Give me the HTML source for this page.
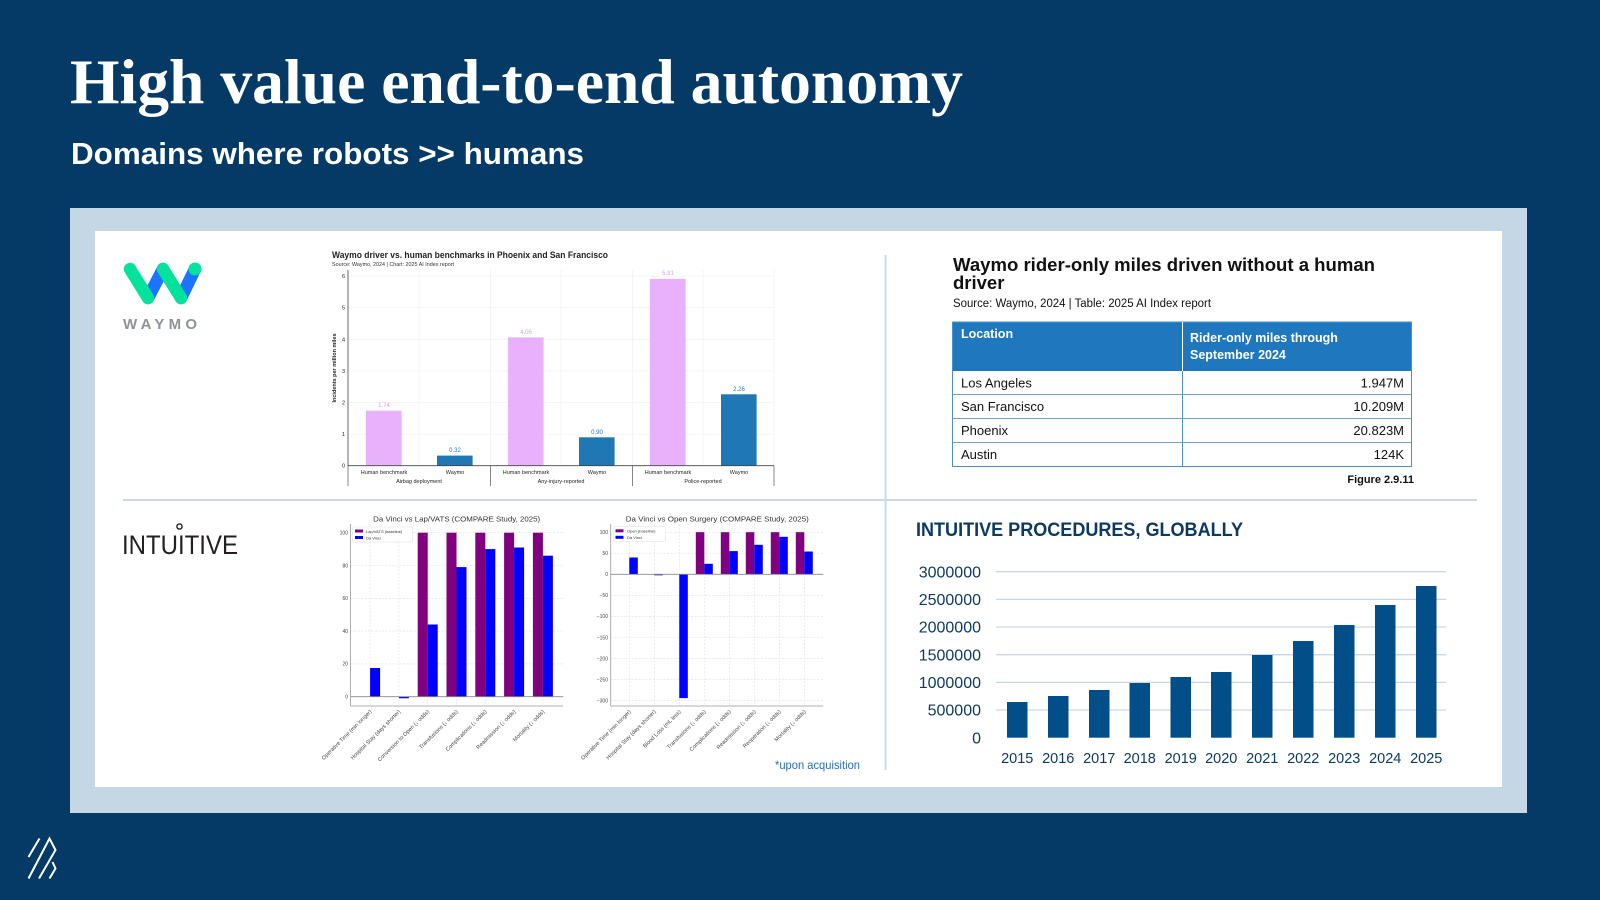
<!DOCTYPE html>
<html><head><meta charset="utf-8"><style>
html,body{margin:0;padding:0;background:#053a66;}
svg{display:block;}
</style></head><body>
<svg width="1600" height="900" viewBox="0 0 1600 900" xmlns="http://www.w3.org/2000/svg" font-family="Liberation Sans, Arial, sans-serif">
<rect x="0" y="0" width="1600" height="900" fill="#053a66"/>
<text x="70" y="103" font-family="Liberation Serif, serif" font-weight="bold" font-size="64" fill="#fff" textLength="893" lengthAdjust="spacingAndGlyphs">High value end-to-end autonomy</text>
<text x="71" y="164" font-weight="bold" font-size="31" fill="#fff" textLength="513" lengthAdjust="spacingAndGlyphs">Domains where robots &gt;&gt; humans</text>

<rect x="70" y="208" width="1457" height="605" fill="#c5d6e4"/>
<rect x="95" y="231" width="1407" height="556" fill="#ffffff"/>
<line x1="123" y1="500" x2="1477" y2="500" stroke="#c9d9e7" stroke-width="2"/>
<line x1="885.5" y1="255" x2="885.5" y2="770" stroke="#c9d9e7" stroke-width="2"/>

<!-- Waymo logo -->
<g stroke-linecap="round" fill="none" stroke-width="12.5">
<line x1="148" y1="298" x2="163" y2="269" stroke="#1a74ff"/>
<line x1="181" y1="298" x2="195" y2="269" stroke="#1a74ff"/>
<line x1="130" y1="269" x2="148" y2="298" stroke="#05e29c"/>
<line x1="163" y1="269" x2="181" y2="298" stroke="#05e29c"/>
</g>
<circle cx="195" cy="269" r="6.5" fill="#05e29c"/>
<text x="123" y="329" font-size="15" font-weight="bold" fill="#8d9399" letter-spacing="5" textLength="79" lengthAdjust="spacing">WAYMO</text>

<!-- Waymo bar chart -->
<text x="332" y="258" font-weight="bold" font-size="9.5" fill="#222" textLength="276" lengthAdjust="spacingAndGlyphs">Waymo driver vs. human benchmarks in Phoenix and San Francisco</text>
<text x="332" y="266" font-size="5.5" fill="#333" textLength="122" lengthAdjust="spacingAndGlyphs">Source: Waymo, 2024 | Chart: 2025 AI Index report</text>
<g stroke="#f2f2f2" stroke-width="0.8">
<line x1="348" y1="434.1" x2="774" y2="434.1"/><line x1="348" y1="402.5" x2="774" y2="402.5"/>
<line x1="348" y1="370.9" x2="774" y2="370.9"/><line x1="348" y1="339.3" x2="774" y2="339.3"/>
<line x1="348" y1="307.7" x2="774" y2="307.7"/><line x1="348" y1="276.1" x2="774" y2="276.1"/>
<line x1="419" y1="270" x2="419" y2="466"/><line x1="561" y1="270" x2="561" y2="466"/><line x1="703" y1="270" x2="703" y2="466"/>
<line x1="490.4" y1="270" x2="490.4" y2="466"/><line x1="632.4" y1="270" x2="632.4" y2="466"/><line x1="774" y1="270" x2="774" y2="466"/>
</g>
<g fill="#e9b0fb"><rect x="366" y="410.7" width="35.6" height="55"/><rect x="508" y="337.4" width="35.6" height="128.3"/><rect x="650" y="278.9" width="35.6" height="186.8"/></g>
<g fill="#1f77b4"><rect x="437" y="455.6" width="35.6" height="10.1"/><rect x="579" y="437.3" width="35.6" height="28.4"/><rect x="721" y="394.3" width="35.6" height="71.4"/></g>
<g font-size="6" text-anchor="middle">
<text x="384" y="407" fill="#dc9cf0">1.74</text><text x="526" y="334" fill="#dc9cf0">4.06</text><text x="668" y="275" fill="#dc9cf0">5.91</text>
<text x="455" y="452" fill="#1f77b4">0.32</text><text x="597" y="434" fill="#1f77b4">0.90</text><text x="739" y="391" fill="#1f77b4">2.26</text>
</g>
<line x1="348" y1="270" x2="348" y2="466" stroke="#444" stroke-width="0.8"/>
<line x1="348" y1="465.7" x2="774" y2="465.7" stroke="#444" stroke-width="0.8"/>
<g stroke="#555" stroke-width="0.7"><line x1="348" y1="466" x2="348" y2="486"/><line x1="490.4" y1="466" x2="490.4" y2="486"/><line x1="632.4" y1="466" x2="632.4" y2="486"/><line x1="774" y1="466" x2="774" y2="486"/></g>
<g font-size="5.5" fill="#222" text-anchor="end">
<text x="345" y="467.7">0</text><text x="345" y="436.1">1</text><text x="345" y="404.5">2</text><text x="345" y="372.9">3</text><text x="345" y="341.3">4</text><text x="345" y="309.7">5</text><text x="345" y="278.1">6</text>
</g>
<text transform="translate(336,368) rotate(-90)" font-size="5.5" font-weight="bold" fill="#222" text-anchor="middle">Incidents per million miles</text>
<g font-size="5.5" fill="#222" text-anchor="middle">
<text x="384" y="474">Human benchmark</text><text x="455" y="474">Waymo</text>
<text x="526" y="474">Human benchmark</text><text x="597" y="474">Waymo</text>
<text x="668" y="474">Human benchmark</text><text x="739" y="474">Waymo</text>
<text x="419" y="483">Airbag deployment</text><text x="561" y="483">Any-injury-reported</text><text x="703" y="483">Police-reported</text>
</g>

<!-- Table -->
<text x="953" y="271" font-weight="bold" font-size="18.5" fill="#111" textLength="422" lengthAdjust="spacingAndGlyphs">Waymo rider-only miles driven without a human</text>
<text x="953" y="289" font-weight="bold" font-size="18.5" fill="#111">driver</text>
<text x="953" y="307" font-size="11.5" fill="#111" textLength="258" lengthAdjust="spacingAndGlyphs">Source: Waymo, 2024 | Table: 2025 AI Index report</text>
<rect x="952.5" y="322" width="459" height="49" fill="#1f78be"/>
<rect x="952.5" y="322" width="459" height="144.5" fill="none" stroke="#4a90d0" stroke-width="1"/>
<g stroke="#6aa3d8" stroke-width="1"><line x1="952.5" y1="394.5" x2="1411.5" y2="394.5"/><line x1="952.5" y1="418.5" x2="1411.5" y2="418.5"/><line x1="952.5" y1="442.5" x2="1411.5" y2="442.5"/></g>
<line x1="1182.5" y1="322" x2="1182.5" y2="466.5" stroke="#4a90d0" stroke-width="1"/>
<line x1="1182.5" y1="322" x2="1182.5" y2="371" stroke="#ffffff" stroke-width="1"/>
<g font-weight="bold" font-size="12.5" fill="#fff">
<text x="961" y="338">Location</text><text x="1190" y="342">Rider-only miles through</text><text x="1190" y="359">September 2024</text>
</g>
<g font-size="13" fill="#111">
<text x="961" y="387.5">Los Angeles</text><text x="961" y="411">San Francisco</text><text x="961" y="435">Phoenix</text><text x="961" y="459">Austin</text>
</g>
<g font-size="13" fill="#111" text-anchor="end">
<text x="1404" y="387.5">1.947M</text><text x="1404" y="411">10.209M</text><text x="1404" y="435">20.823M</text><text x="1404" y="459">124K</text>
</g>
<text x="1414" y="483" font-weight="bold" font-size="11" fill="#111" text-anchor="end">Figure 2.9.11</text>

<!-- Intuitive logo -->
<text x="122" y="554" font-size="27" fill="#231f20" textLength="116" lengthAdjust="spacingAndGlyphs">INTUITIVE</text>
<circle cx="179.5" cy="526.5" r="2.6" fill="none" stroke="#231f20" stroke-width="1.4"/>

<!-- Chart 1 Lap/VATS -->
<text x="456.7" y="521.5" font-size="7.5" fill="#333" text-anchor="middle" textLength="167" lengthAdjust="spacingAndGlyphs">Da Vinci vs Lap/VATS (COMPARE Study, 2025)</text>
<g stroke="#dedede" stroke-width="0.6" stroke-dasharray="2,1.5">
<line x1="350.5" y1="532.7" x2="563.3" y2="532.7"/><line x1="350.5" y1="565.5" x2="563.3" y2="565.5"/><line x1="350.5" y1="598.3" x2="563.3" y2="598.3"/>
<line x1="350.5" y1="631.1" x2="563.3" y2="631.1"/><line x1="350.5" y1="663.9" x2="563.3" y2="663.9"/>
<line x1="370.1" y1="524" x2="370.1" y2="706"/><line x1="398.9" y1="524" x2="398.9" y2="706"/><line x1="427.7" y1="524" x2="427.7" y2="706"/>
<line x1="456.5" y1="524" x2="456.5" y2="706"/><line x1="485.3" y1="524" x2="485.3" y2="706"/><line x1="514.1" y1="524" x2="514.1" y2="706"/><line x1="542.9" y1="524" x2="542.9" y2="706"/>
</g>
<g fill="#800080">
<rect x="417.7" y="532.7" width="10" height="164"/><rect x="446.5" y="532.7" width="10" height="164"/><rect x="475.3" y="532.7" width="10" height="164"/><rect x="504.1" y="532.7" width="10" height="164"/><rect x="532.9" y="532.7" width="10" height="164"/>
</g>
<g fill="#0000ff">
<rect x="370.1" y="668" width="10" height="28.7"/><rect x="398.9" y="696.7" width="10" height="1.6"/><rect x="427.7" y="624.5" width="10" height="72.2"/>
<rect x="456.5" y="567.1" width="10" height="129.6"/><rect x="485.3" y="549.1" width="10" height="147.6"/><rect x="514.1" y="547.5" width="10" height="149.2"/><rect x="542.9" y="555.7" width="10" height="141"/>
</g>
<line x1="350.5" y1="696.7" x2="563.3" y2="696.7" stroke="#888" stroke-width="0.8"/>
<line x1="350.5" y1="524" x2="350.5" y2="706" stroke="#999" stroke-width="0.8"/>
<line x1="350.5" y1="706" x2="563.3" y2="706" stroke="#999" stroke-width="0.8"/>
<g font-size="5" fill="#444" text-anchor="end">
<text x="348" y="534.5">100</text><text x="348" y="567.3">80</text><text x="348" y="600.1">60</text><text x="348" y="632.9">40</text><text x="348" y="665.7">20</text><text x="348" y="698.5">0</text>
</g>
<rect x="352.7" y="527" width="60" height="15" fill="#fff" stroke="#ddd" stroke-width="0.5" rx="1"/>
<rect x="355" y="529.5" width="8" height="3" fill="#800080"/><rect x="355" y="536" width="8" height="3" fill="#0000ff"/>
<g font-size="4" fill="#333"><text x="366" y="532.8">Lap/VATS (baseline)</text><text x="366" y="539.3">Da Vinci</text></g>
<g font-size="5.5" fill="#444" text-anchor="end">
<text transform="translate(372,712) rotate(-45)">Operative Time (min longer)</text>
<text transform="translate(400.8,712) rotate(-45)">Hospital Stay (days shorter)</text>
<text transform="translate(429.6,712) rotate(-45)">Conversion to Open (↓ odds)</text>
<text transform="translate(458.4,712) rotate(-45)">Transfusions (↓ odds)</text>
<text transform="translate(487.2,712) rotate(-45)">Complications (↓ odds)</text>
<text transform="translate(516,712) rotate(-45)">Readmission (↓ odds)</text>
<text transform="translate(544.8,712) rotate(-45)">Mortality (↓ odds)</text>
</g>

<!-- Chart 2 Open Surgery -->
<text x="717.3" y="521.5" font-size="7.5" fill="#333" text-anchor="middle" textLength="183" lengthAdjust="spacingAndGlyphs">Da Vinci vs Open Surgery (COMPARE Study, 2025)</text>
<g stroke="#dedede" stroke-width="0.6" stroke-dasharray="2,1.5">
<line x1="610.7" y1="532.2" x2="823.3" y2="532.2"/><line x1="610.7" y1="553.2" x2="823.3" y2="553.2"/>
<line x1="610.7" y1="595.4" x2="823.3" y2="595.4"/><line x1="610.7" y1="616.4" x2="823.3" y2="616.4"/><line x1="610.7" y1="637.5" x2="823.3" y2="637.5"/>
<line x1="610.7" y1="658.6" x2="823.3" y2="658.6"/><line x1="610.7" y1="679.6" x2="823.3" y2="679.6"/><line x1="610.7" y1="700.7" x2="823.3" y2="700.7"/>
<line x1="629.3" y1="524" x2="629.3" y2="706"/><line x1="654.3" y1="524" x2="654.3" y2="706"/><line x1="679.3" y1="524" x2="679.3" y2="706"/><line x1="704.3" y1="524" x2="704.3" y2="706"/>
<line x1="729.3" y1="524" x2="729.3" y2="706"/><line x1="754.3" y1="524" x2="754.3" y2="706"/><line x1="779.3" y1="524" x2="779.3" y2="706"/><line x1="804.3" y1="524" x2="804.3" y2="706"/>
</g>
<g fill="#800080">
<rect x="695.8" y="532.2" width="8.5" height="42.1"/><rect x="720.8" y="532.2" width="8.5" height="42.1"/><rect x="745.8" y="532.2" width="8.5" height="42.1"/><rect x="770.8" y="532.2" width="8.5" height="42.1"/><rect x="795.8" y="532.2" width="8.5" height="42.1"/>
</g>
<g fill="#0000ff">
<rect x="629.3" y="557.5" width="8.5" height="16.8"/><rect x="654.3" y="574.3" width="8.5" height="1"/><rect x="679.3" y="574.3" width="8.5" height="123.8"/>
<rect x="704.3" y="563.8" width="8.5" height="10.5"/><rect x="729.3" y="551.1" width="8.5" height="23.2"/><rect x="754.3" y="544.8" width="8.5" height="29.5"/>
<rect x="779.3" y="536.8" width="8.5" height="37.5"/><rect x="804.3" y="551.5" width="8.5" height="22.8"/>
</g>
<line x1="610.7" y1="574.3" x2="823.3" y2="574.3" stroke="#888" stroke-width="0.8"/>
<line x1="610.7" y1="524" x2="610.7" y2="706" stroke="#999" stroke-width="0.8"/>
<line x1="610.7" y1="706" x2="823.3" y2="706" stroke="#999" stroke-width="0.8"/>
<g font-size="5" fill="#444" text-anchor="end">
<text x="608" y="534">100</text><text x="608" y="555">50</text><text x="608" y="576.1">0</text><text x="608" y="597.2">−50</text><text x="608" y="618.2">−100</text>
<text x="608" y="639.3">−150</text><text x="608" y="660.4">−200</text><text x="608" y="681.4">−250</text><text x="608" y="702.5">−300</text>
</g>
<rect x="613.3" y="526.7" width="52" height="15" fill="#fff" stroke="#ddd" stroke-width="0.5" rx="1"/>
<rect x="615.5" y="529.3" width="8" height="3" fill="#800080"/><rect x="615.5" y="535.8" width="8" height="3" fill="#0000ff"/>
<g font-size="4" fill="#333"><text x="627" y="532.6">Open (baseline)</text><text x="627" y="539.1">Da Vinci</text></g>
<g font-size="5.5" fill="#444" text-anchor="end">
<text transform="translate(631.3,712) rotate(-45)">Operative Time (min longer)</text>
<text transform="translate(656.3,712) rotate(-45)">Hospital Stay (days shorter)</text>
<text transform="translate(681.3,712) rotate(-45)">Blood Loss (mL less)</text>
<text transform="translate(706.3,712) rotate(-45)">Transfusions (↓ odds)</text>
<text transform="translate(731.3,712) rotate(-45)">Complications (↓ odds)</text>
<text transform="translate(756.3,712) rotate(-45)">Readmission (↓ odds)</text>
<text transform="translate(781.3,712) rotate(-45)">Reoperation (↓ odds)</text>
<text transform="translate(806.3,712) rotate(-45)">Mortality (↓ odds)</text>
</g>
<text x="775" y="769" font-size="12" fill="#2a6db0" textLength="85" lengthAdjust="spacingAndGlyphs">*upon acquisition</text>

<!-- Intuitive procedures -->
<text x="916" y="536" font-weight="bold" font-size="19" fill="#0e3a62" textLength="327" lengthAdjust="spacingAndGlyphs">INTUITIVE PROCEDURES, GLOBALLY</text>
<g stroke="#c9d7e4" stroke-width="1.3">
<line x1="996" y1="710" x2="1446" y2="710"/><line x1="996" y1="682.4" x2="1446" y2="682.4"/><line x1="996" y1="654.7" x2="1446" y2="654.7"/>
<line x1="996" y1="627" x2="1446" y2="627"/><line x1="996" y1="599.4" x2="1446" y2="599.4"/><line x1="996" y1="571.7" x2="1446" y2="571.7"/>
</g>
<g fill="#024e89">
<rect x="1007" y="702" width="20.5" height="35.7"/>
<rect x="1048" y="696" width="20.5" height="41.7"/>
<rect x="1089" y="690" width="20.5" height="47.7"/>
<rect x="1129.5" y="683" width="20.5" height="54.7"/>
<rect x="1170.5" y="677" width="20.5" height="60.7"/>
<rect x="1211" y="672" width="20.5" height="65.7"/>
<rect x="1252" y="655" width="20.5" height="82.7"/>
<rect x="1293" y="641" width="20.5" height="96.7"/>
<rect x="1334" y="625" width="20.5" height="112.7"/>
<rect x="1375" y="605" width="20.5" height="132.7"/>
<rect x="1416" y="586" width="20.5" height="151.7"/>
</g>
<g font-size="16" fill="#0e3a62" text-anchor="end">
<text x="981" y="577.5">3000000</text><text x="981" y="605">2500000</text><text x="981" y="632.7">2000000</text>
<text x="981" y="660.4">1500000</text><text x="981" y="688">1000000</text><text x="981" y="715.7">500000</text><text x="981" y="743.4">0</text>
</g>
<g font-size="14.5" fill="#0e3a62" text-anchor="middle">
<text x="1017.2" y="763">2015</text><text x="1058.2" y="763">2016</text><text x="1099.2" y="763">2017</text><text x="1139.7" y="763">2018</text>
<text x="1180.7" y="763">2019</text><text x="1221.2" y="763">2020</text><text x="1262.2" y="763">2021</text><text x="1303.2" y="763">2022</text>
<text x="1344.2" y="763">2023</text><text x="1385.2" y="763">2024</text><text x="1426.2" y="763">2025</text>
</g>

<!-- bottom-left logo -->
<g stroke="#fff" stroke-width="2" fill="none" stroke-linejoin="miter">
<line x1="28.5" y1="857" x2="39.5" y2="838.5"/>
<polyline points="28.5,878.5 49.5,838.5 55.5,850 39,878.5"/>
<polyline points="49.5,878.5 55.5,868.5 52.5,862"/>
</g>
</svg>
</body></html>
